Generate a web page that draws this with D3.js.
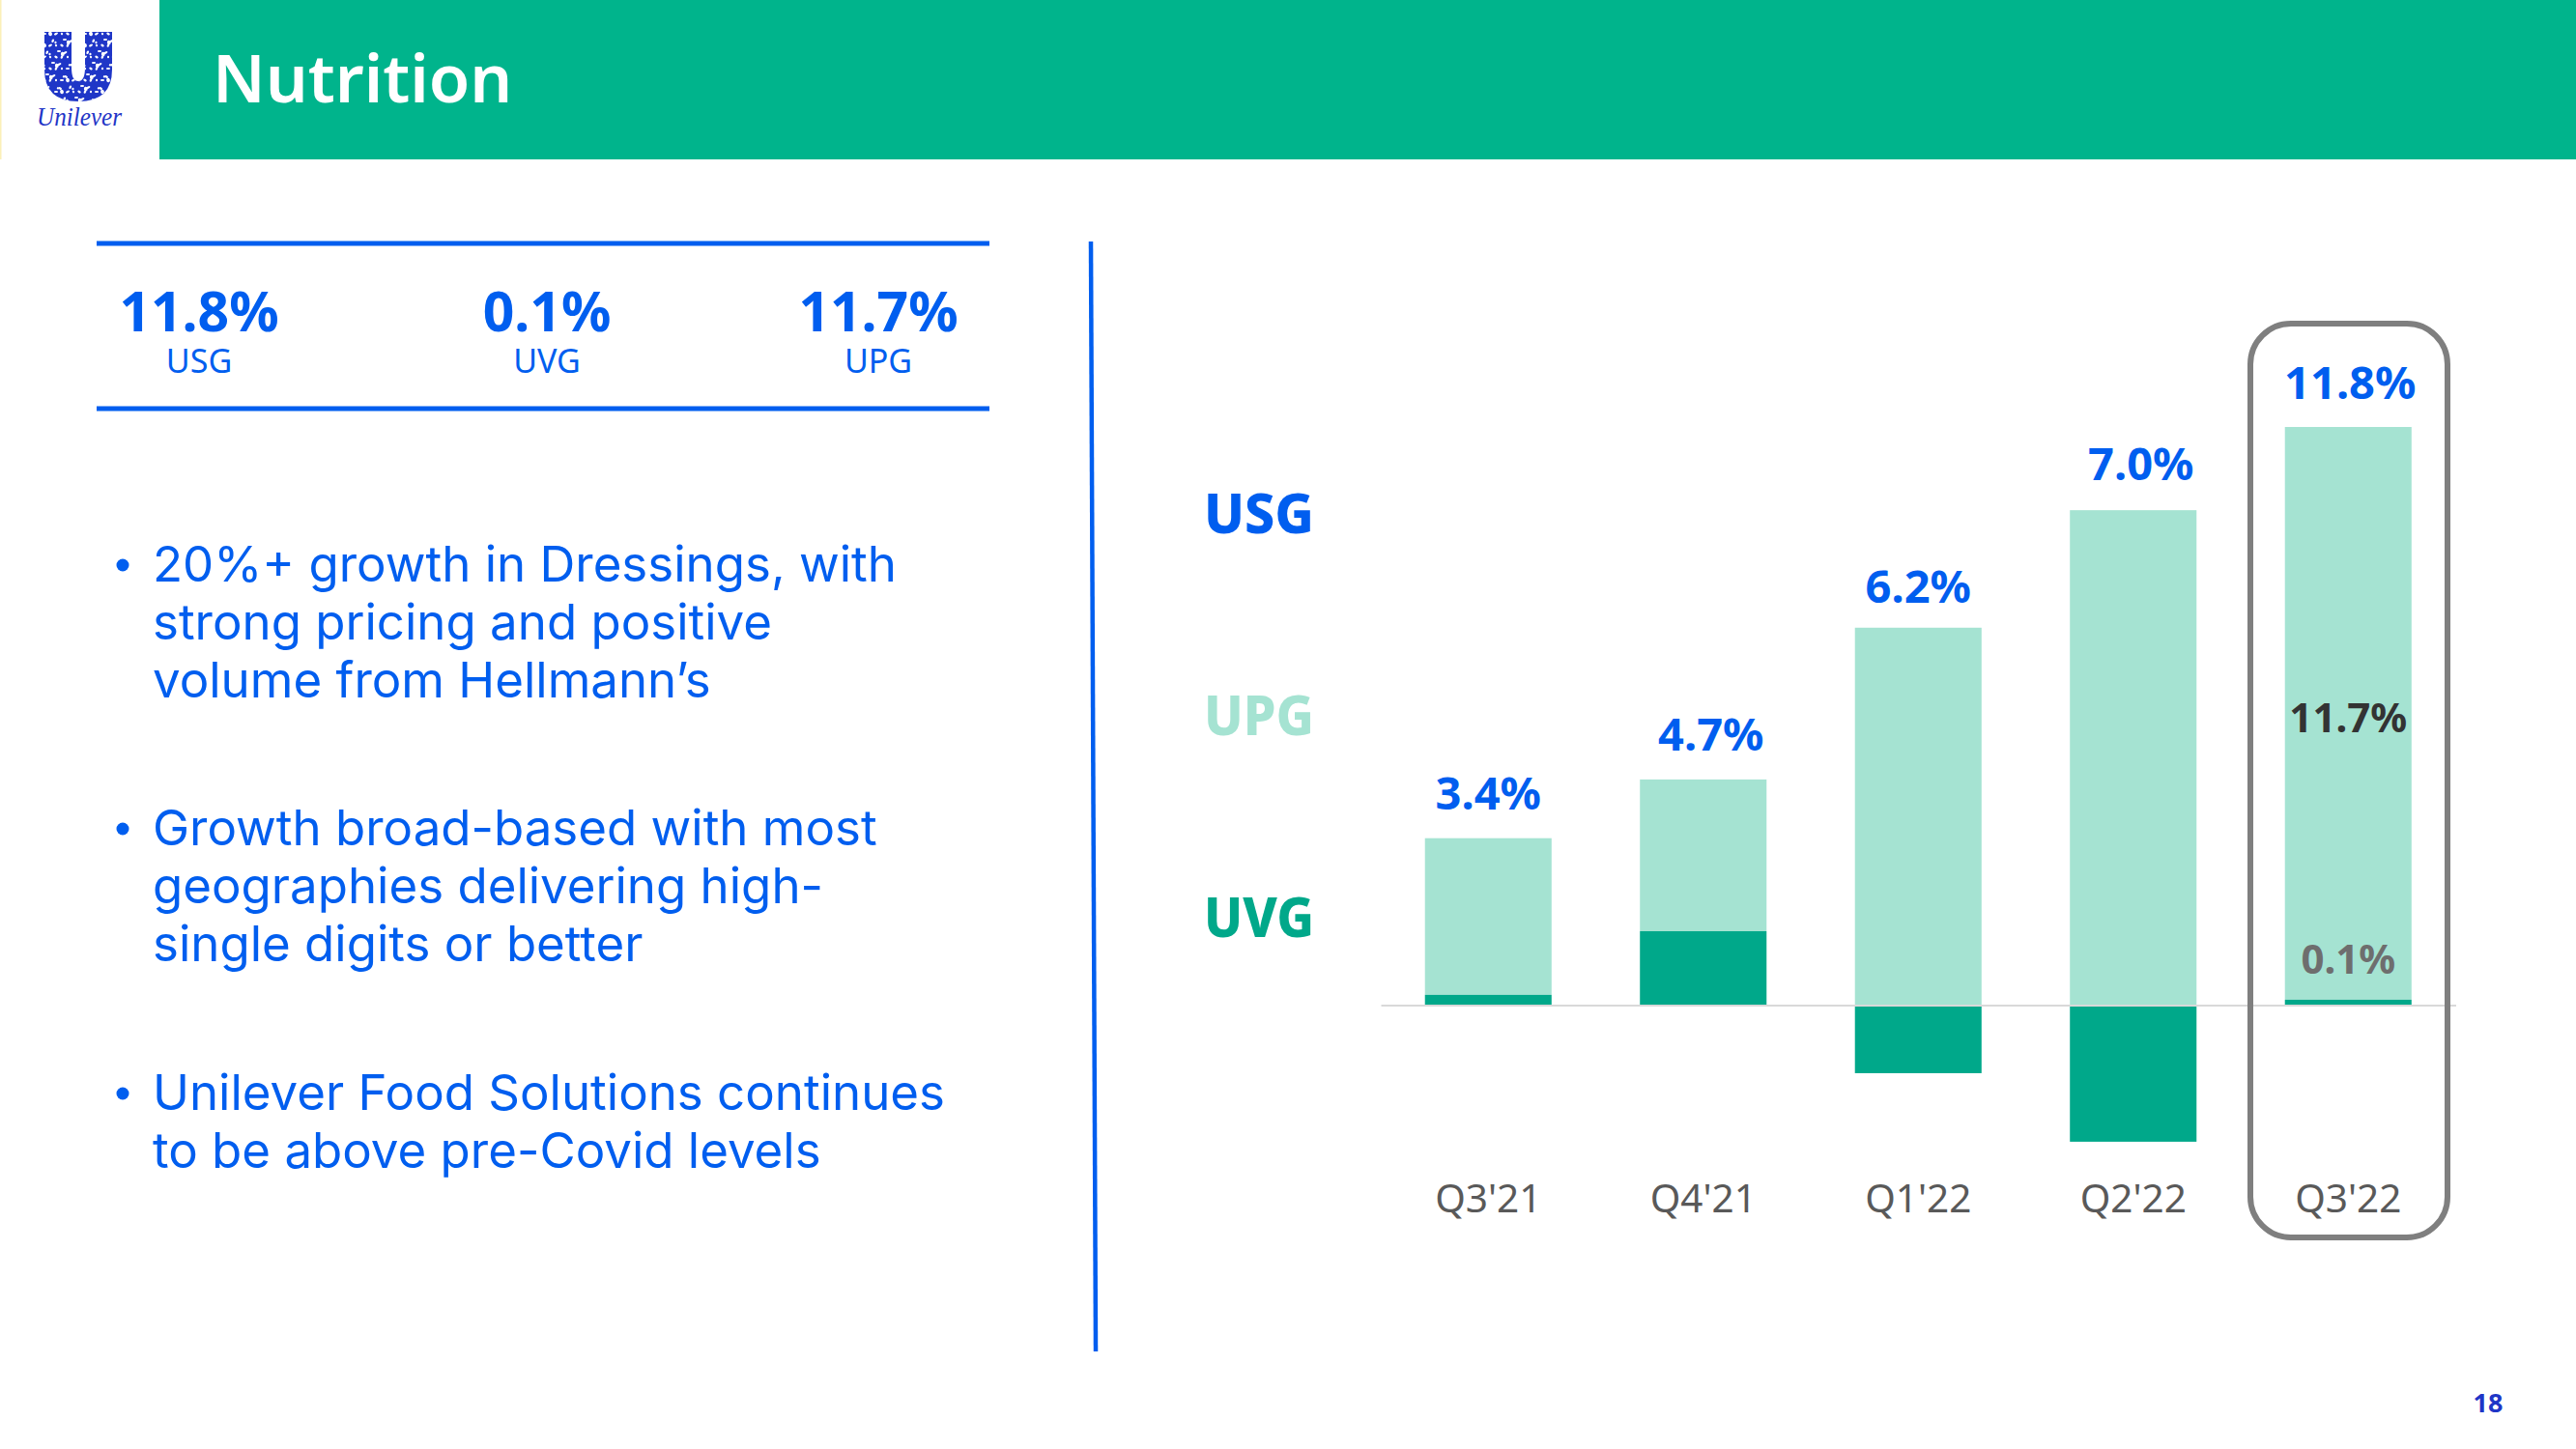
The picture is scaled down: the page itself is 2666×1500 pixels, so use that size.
<!DOCTYPE html>
<html>
<head>
<meta charset="utf-8">
<script src="https://cdnjs.cloudflare.com/ajax/libs/d3/7.8.5/d3.min.js"></script>
<style>
html,body{margin:0;padding:0;background:#fff}
svg{display:block}
text{font-family:"Noto Sans",sans-serif}
</style>
</head>
<body>
<svg id="c" width="2666" height="1500"></svg>
<script>
const title = "Nutrition";
const quarters = ["Q3'21","Q4'21","Q1'22","Q2'22","Q3'22"];
const usg = [3.4,4.7,6.2,7.0,11.8];
const upg = [3.2,3.1,7.7,10.1,11.7];
const uvg = [0.2,1.5,-1.4,-2.8,0.1];
const usgLabels = ["3.4%","4.7%","6.2%","7.0%","11.8%"];
const legendNames = ["USG","UPG","UVG"];
const kpiValues = ["11.8%","0.1%","11.7%"];
const kpiNames = ["USG","UVG","UPG"];
const bullets = [
  ["20%+ growth in Dressings, with","strong pricing and positive","volume from Hellmann’s"],
  ["Growth broad-based with most","geographies delivering high-","single digits or better"],
  ["Unilever Food Solutions continues","to be above pre-Covid levels"]
];
const pageNumber = "18";

const BLUE="#005EEF", GREEN="#00B48C", LIGHT="#A5E3D2", DARK="#00A88A", NAVY="#1F36C7";
const svg=d3.select("#c");

// Header
svg.append("rect").attr("x",165).attr("y",0).attr("width",2501).attr("height",165).attr("fill",GREEN);
svg.append("rect").attr("x",0).attr("y",0).attr("width",1.5).attr("height",165).attr("fill","#FBF0B8");
svg.append("text").attr("x",220).attr("y",106).attr("font-size",69).attr("font-weight",600).attr("fill","#fff").text(title);

// Logo
const defs=svg.append("defs");
const uPath="M46 33 H74 V70 Q74 84 81 84 Q88 84 88 70 V33 H116 V72 Q116 105 81 105 Q46 105 46 72 Z";
defs.append("clipPath").attr("id","uclip").append("path").attr("d",uPath);
const logo=svg.append("g");
logo.append("path").attr("d",uPath).attr("fill",NAVY);
const dots=logo.append("g").attr("clip-path","url(#uclip)");
d3.range(35,108,6).forEach((cy,i)=>d3.range(46,120,6).forEach((cx,j)=>{
  const k=(i*5+j*3)%7;
  dots.append("ellipse").attr("cx",cx+(i%2?3:0)).attr("cy",cy)
    .attr("rx",k%3===0?2.2:1.2).attr("ry",k%2===0?1.1:1.9).attr("fill","#fff")
    .attr("transform",`rotate(${k*25} ${cx} ${cy})`);
}));
logo.append("text").attr("x",38).attr("y",130).attr("textLength",88).attr("lengthAdjust","spacingAndGlyphs").attr("font-size",28)
  .attr("font-style","italic").style("font-family","'Liberation Serif',serif").attr("fill",NAVY).text("Unilever");

// KPI panel
[252,423].forEach(y=>svg.append("rect").attr("x",100).attr("y",y-2.5).attr("width",924).attr("height",5).attr("fill",BLUE));
const kpiX=[206,566,909];
kpiValues.forEach((v,i)=>{
  svg.append("text").attr("x",kpiX[i]).attr("y",343).attr("text-anchor","middle").attr("font-size",57).attr("font-weight",700).attr("fill",BLUE).text(v);
  svg.append("text").attr("x",kpiX[i]).attr("y",386).attr("text-anchor","middle").attr("font-size",34).attr("fill",BLUE).text(kpiNames[i]);
});

// Divider
svg.append("line").attr("x1",1129).attr("y1",250).attr("x2",1134).attr("y2",1399).attr("stroke",BLUE).attr("stroke-width",4.5);

// Bullets
const blockY=[602,875,1149];
bullets.forEach((lines,b)=>{
  svg.append("circle").attr("cx",127).attr("cy",blockY[b]-17).attr("r",6.5).attr("fill",BLUE);
  lines.forEach((t,l)=>svg.append("text").attr("x",158).attr("y",blockY[b]+l*60)
    .attr("font-size",51).style("font-family","Inter,sans-serif").attr("fill",BLUE).text(t));
});

// Chart
const x=d3.scaleBand().domain(quarters).range([1429,2541.5]).paddingInner(0.411).paddingOuter(0.2055);
const y=d3.scaleLinear().domain([0,11.8]).range([1040,442]);
const rows=quarters.map((q,i)=>({q,usg:usg[i],upg:upg[i],uvg:uvg[i],label:usgLabels[i]}));

svg.append("g").selectAll("rect").data(rows).join("rect")
  .attr("x",d=>x(d.q)).attr("width",x.bandwidth())
  .attr("y",d=>y(Math.max(d.uvg,0)+d.upg))
  .attr("height",d=>y(0)-y(d.upg)).attr("fill",LIGHT);
svg.append("g").selectAll("rect").data(rows).join("rect")
  .attr("x",d=>x(d.q)).attr("width",x.bandwidth())
  .attr("y",d=>y(Math.max(d.uvg,0)))
  .attr("height",d=>Math.abs(y(d.uvg)-y(0))).attr("fill",DARK);

const axis=svg.append("g").attr("transform",`translate(0,${y(0)+0.5})`)
  .call(d3.axisBottom(x).tickSize(0).tickSizeOuter(0).tickPadding(186.2));
axis.select(".domain").attr("stroke","#D9D9D9").attr("stroke-width",2);
axis.selectAll("text").attr("font-size",40.5).attr("fill","#595959").style("font-family","'Noto Sans',sans-serif");

// USG labels
const labelNudgeX=[0,8,0,8,2], labelGap=[30,30,26,31,29];
svg.append("g").selectAll("text").data(rows).join("text")
  .attr("x",(d,i)=>x(d.q)+x.bandwidth()/2+labelNudgeX[i])
  .attr("y",(d,i)=>y(Math.max(d.uvg,0)+d.upg)-labelGap[i])
  .attr("text-anchor","middle").attr("font-size",47).attr("font-weight",700).attr("fill",BLUE).text(d=>d.label);

// Inner labels for last quarter
const last=rows[rows.length-1];
const cx=x(last.q)+x.bandwidth()/2;
svg.append("text").attr("x",cx).attr("y",758).attr("text-anchor","middle").attr("font-size",42).attr("font-weight",700).attr("fill","#333").text(d3.format(".1f")(last.upg)+"%");
svg.append("text").attr("x",cx).attr("y",1008).attr("text-anchor","middle").attr("font-size",42).attr("font-weight",700).attr("fill","#6E6E6E").text(d3.format(".1f")(last.uvg)+"%");

// Legend
const legendColors=[BLUE,LIGHT,DARK], legendY=[552,761,970];
legendNames.forEach((n,i)=>svg.append("text").attr("x",1303).attr("y",legendY[i]).attr("text-anchor","middle")
  .attr("textLength",114).attr("lengthAdjust","spacingAndGlyphs")
  .attr("font-size",57).attr("font-weight",800).attr("fill",legendColors[i]).text(n));

// Highlight
svg.append("rect").attr("x",2329).attr("y",335).attr("width",204).attr("height",946).attr("rx",42).attr("fill","none").attr("stroke","#7F7F7F").attr("stroke-width",6);

// Page number
svg.append("text").attr("x",2575).attr("y",1462).attr("text-anchor","middle").attr("font-size",27).attr("font-weight",700).attr("fill",NAVY).text(pageNumber);
</script>
</body>
</html>
